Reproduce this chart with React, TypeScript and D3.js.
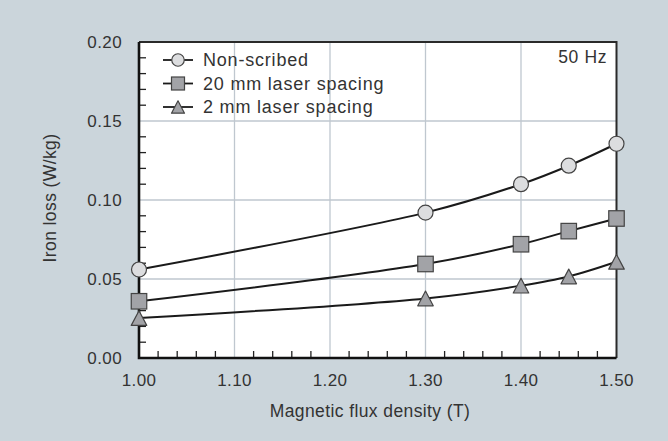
import React, { useEffect, useRef } from 'react';
import * as d3 from 'd3';

// flux density (T) where loss was measured
const fluxDensity = [1.0, 1.3, 1.4, 1.45, 1.5];
// iron loss (W/kg) per series
const nonScribed = [0.056, 0.092, 0.110, 0.1217, 0.1356];
const laser20mm = [0.0359, 0.0595, 0.072, 0.0803, 0.0883];
const laser2mm = [0.0253, 0.0377, 0.0458, 0.0516, 0.0609];
const seriesNames = ['Non-scribed', '20 mm laser spacing', '2 mm laser spacing'];
const xTicks = [1.0, 1.1, 1.2, 1.3, 1.4, 1.5];
const yTicks = [0.0, 0.05, 0.1, 0.15, 0.2];

const W = 668;
const H = 441;
const FONT = '"Liberation Sans", Arial, Helvetica, sans-serif';

const App = () => {
    const anchor = useRef<SVGSVGElement>(null);

    useEffect(() => {
        const svg = d3.select(anchor.current);
        svg.selectAll('*').remove();

        const left = 139, right = 616.5, top = 42, bottom = 358;
        const x = d3.scaleLinear().domain([1.0, 1.5]).range([left, right]);
        const y = d3.scaleLinear().domain([0, 0.2]).range([bottom, top]);

        svg.append('rect').attr('width', W).attr('height', H).attr('fill', '#cbd5db');
        svg.append('rect')
            .attr('x', left).attr('y', top)
            .attr('width', right - left).attr('height', bottom - top)
            .attr('fill', 'white');

        // grid
        const grid = svg.append('g').attr('stroke', '#bfc7cf').attr('stroke-width', 1.3);
        xTicks.slice(1, -1).forEach((t) => {
            grid.append('line').attr('x1', x(t)).attr('x2', x(t)).attr('y1', top).attr('y2', bottom);
        });
        yTicks.slice(1, -1).forEach((t) => {
            grid.append('line').attr('x1', left).attr('x2', right).attr('y1', y(t)).attr('y2', y(t));
        });

        // minor ticks, pointing inwards
        const ticks = svg.append('g').attr('stroke', '#222').attr('stroke-width', 1.3);
        d3.range(1, 20).filter((i) => i % 5 !== 0).forEach((i) => {
            const v = i * 0.01;
            ticks.append('line').attr('x1', left).attr('x2', left + 7).attr('y1', y(v)).attr('y2', y(v));
        });
        d3.range(1, 25).filter((i) => i % 5 !== 0).forEach((i) => {
            const v = 1 + i * 0.02;
            ticks.append('line').attr('x1', x(v)).attr('x2', x(v)).attr('y1', bottom).attr('y2', bottom - 7);
        });

        // frame
        svg.append('path')
            .attr('d', `M${left},${top}H${right}V${bottom}`)
            .attr('fill', 'none').attr('stroke', '#2a2a2a').attr('stroke-width', 2);
        svg.append('path')
            .attr('d', `M${left},${top}V${bottom}H${right}`)
            .attr('fill', 'none').attr('stroke', '#111').attr('stroke-width', 2.6);

        // tick labels
        const labels = svg.append('g')
            .attr('font-family', FONT).attr('font-size', 17)
            .attr('fill', '#333').attr('letter-spacing', 0.4);
        yTicks.forEach((t) => {
            labels.append('text')
                .attr('x', left - 17).attr('y', y(t)).attr('dy', '0.36em')
                .attr('text-anchor', 'end').text(t.toFixed(2));
        });
        xTicks.forEach((t) => {
            labels.append('text')
                .attr('x', x(t)).attr('y', 386)
                .attr('text-anchor', 'middle').text(t.toFixed(2));
        });

        svg.append('text')
            .attr('x', 370).attr('y', 417)
            .attr('text-anchor', 'middle')
            .attr('font-family', FONT).attr('font-size', 17.5).attr('letter-spacing', 0.4)
            .attr('fill', '#333').text('Magnetic flux density (T)');
        svg.append('text')
            .attr('transform', `translate(56,198) rotate(-90)`)
            .attr('text-anchor', 'middle')
            .attr('font-family', FONT).attr('font-size', 17.5).attr('letter-spacing', 0.4)
            .attr('fill', '#333').text('Iron loss (W/kg)');
        svg.append('text')
            .attr('x', 607).attr('y', 63)
            .attr('text-anchor', 'end')
            .attr('font-family', FONT).attr('font-size', 17.5).attr('letter-spacing', 0.6)
            .attr('fill', '#333').text('50 Hz');

        // markers
        const marker = (g, kind, cx, cy, s) => {
            if (kind === 0) {
                g.append('circle').attr('cx', cx).attr('cy', cy).attr('r', s / 2)
                    .attr('fill', '#dcdddf').attr('stroke', '#444').attr('stroke-width', 1.2);
            } else if (kind === 1) {
                g.append('rect').attr('x', cx - s / 2).attr('y', cy - s / 2)
                    .attr('width', s).attr('height', s)
                    .attr('fill', '#a2a3a7').attr('stroke', '#444').attr('stroke-width', 1.2);
            } else {
                const h = s * 0.95;
                g.append('path')
                    .attr('d', `M${cx},${cy - h / 2}L${cx + s / 2},${cy + h / 2}L${cx - s / 2},${cy + h / 2}Z`)
                    .attr('fill', '#a2a3a7').attr('stroke', '#444').attr('stroke-width', 1.2)
                    .attr('stroke-linejoin', 'round');
            }
        };

        const line = d3.line<number>()
            .x((d, i) => x(fluxDensity[i]))
            .y((d) => y(d))
            .curve(d3.curveCatmullRom.alpha(0.5));

        [nonScribed, laser20mm, laser2mm].forEach((vals) => {
            svg.append('path')
                .attr('d', line(vals))
                .attr('fill', 'none').attr('stroke', '#1a1a1a').attr('stroke-width', 2);
        });
        const marks = svg.append('g');
        [nonScribed, laser20mm, laser2mm].forEach((vals, k) => {
            vals.forEach((v, i) => marker(marks, k, x(fluxDensity[i]), y(v), k === 0 ? 15 : 15.5));
        });

        // legend
        const legend = svg.append('g');
        seriesNames.forEach((name, k) => {
            const ly = 60 + k * 23.5;
            legend.append('line')
                .attr('x1', 163).attr('x2', 193).attr('y1', ly).attr('y2', ly)
                .attr('stroke', '#1a1a1a').attr('stroke-width', 1.8);
            marker(legend, k, 178, ly, k === 0 ? 12.5 : 13);
            legend.append('text')
                .attr('x', 203).attr('y', ly).attr('dy', '0.36em')
                .attr('font-family', FONT).attr('font-size', 18).attr('letter-spacing', 0.8)
                .attr('fill', '#333').text(name);
        });
    }, []);

    return <svg ref={anchor} width={W} height={H}
        style={{ position: 'absolute', left: 0, top: 0, display: 'block' }} />;
};

export default App;
